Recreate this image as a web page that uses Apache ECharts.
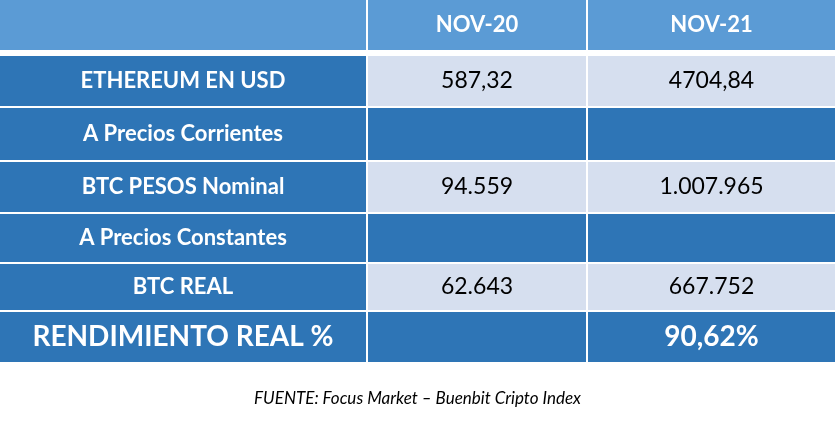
<!DOCTYPE html>
<html>
<head>
<meta charset="utf-8">
<script src="https://cdn.jsdelivr.net/npm/echarts@6/dist/echarts.min.js"></script>
<style>html,body{margin:0;padding:0;background:#fff}#main{width:835px;height:442px}</style>
</head>
<body>
<div id="main"></div>
<script>
const columns = ['', 'NOV-20', 'NOV-21'];
const rowLabels = ['ETHEREUM EN USD', 'A Precios Corrientes', 'BTC PESOS Nominal', 'A Precios Constantes', 'BTC REAL', 'RENDIMIENTO REAL %'];
const nov20 = ['587,32', '', '94.559', '', '62.643', ''];
const nov21 = ['4704,84', '', '1.007.965', '', '667.752', '90,62%'];
const source = 'FUENTE: Focus Market \u2013 Buenbit Cripto Index';

// layout (pixels)
const colEdges = [0, 367, 587, 835];
const rowEdges = [[0, 50], [56, 106], [108, 160], [162, 212], [214, 262], [264, 310], [312, 362]];
const HEAD = '#5B9BD5', DARK = '#2E75B6', LIGHT = '#D6DFEF';

const cells = [];
columns.forEach((c, ci) => cells.push([ci, 0, c, HEAD, '#fff', 'bold', 22]));
rowLabels.forEach((lab, ri) => {
  const r = ri + 1;
  const last = ri === rowLabels.length - 1;
  const dataFill = (ri % 2 === 1 || last) ? DARK : LIGHT;
  const txtCol = dataFill === DARK ? '#fff' : '#000';
  cells.push([0, r, lab, DARK, '#fff', 'bold', last ? 28 : 22]);
  cells.push([1, r, nov20[ri], dataFill, txtCol, last ? 'bold' : 'normal', last ? 28 : 23]);
  cells.push([2, r, nov21[ri], dataFill, txtCol, last ? 'bold' : 'normal', last ? 28 : 23]);
});

const chart = echarts.init(document.getElementById('main'));
chart.setOption({
  animation: false,
  grid: {left: 0, right: 0, top: 0, bottom: 0},
  xAxis: {type: 'value', min: 0, max: 835, show: false},
  yAxis: {type: 'value', min: 0, max: 442, inverse: true, show: false},
  series: [{
    type: 'custom',
    data: cells,
    renderItem: function (params, api) {
      const ci = api.value(0), ri = api.value(1);
      const d = cells[params.dataIndex];
      const x0 = colEdges[ci] + (ci > 0 ? 1 : 0), x1 = colEdges[ci + 1] - (ci < 2 ? 1 : 0);
      const p0 = api.coord([x0, rowEdges[ri][0]]);
      const p1 = api.coord([x1, rowEdges[ri][1]]);
      return {
        type: 'group',
        children: [{
          type: 'rect',
          shape: {x: p0[0], y: p0[1], width: p1[0] - p0[0], height: p1[1] - p0[1]},
          style: {fill: d[3]}
        }, {
          type: 'text',
          style: {
            text: d[2], x: (p0[0] + p1[0]) / 2, y: (p0[1] + p1[1]) / 2,
            align: 'center', verticalAlign: 'middle',
            fill: d[4], fontWeight: d[5], fontSize: d[6], fontFamily: 'Lato'
          }
        }]
      };
    }
  }],
  graphic: [{
    type: 'text', left: 'center', top: 390,
    style: {text: source, fontSize: 17, fontStyle: 'italic', fontFamily: 'Lato', fill: '#000'}
  }]
});
</script>
</body>
</html>
